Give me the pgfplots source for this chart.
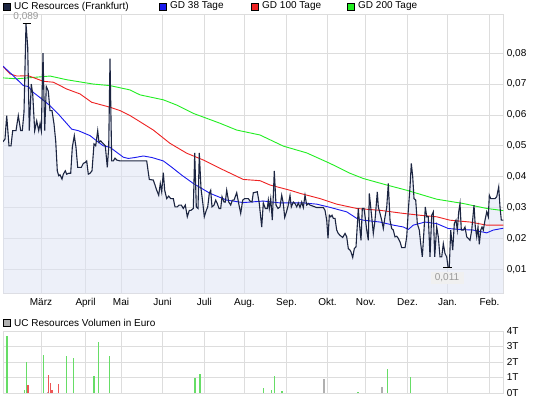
\documentclass[border=0pt]{standalone}
\usepackage{fontspec}
\setmainfont{Liberation Sans}
\usepackage{pgfplots}
\usepackage{pgfplotstable}
\pgfplotsset{compat=1.18}
\definecolor{gridc}{HTML}{DDDDDD}
\definecolor{pricec}{HTML}{1C2541}
\definecolor{fillc}{HTML}{DDE3F5}
\definecolor{maa}{HTML}{1A1AEE}
\definecolor{mab}{HTML}{EE2222}
\definecolor{mac}{HTML}{22EE22}
\definecolor{volg}{HTML}{66DD66}
\definecolor{volr}{HTML}{EE5555}
\definecolor{volgr}{HTML}{B0B0B0}
\definecolor{annot}{HTML}{999999}

\pgfplotstableread{
x v
3 0.0513
5 0.0522
6.7 0.0598
9 0.0500
11 0.0500
12.7 0.0549
16 0.0549
18.3 0.0598
20.7 0.0549
22.3 0.0549
24 0.0609
26 0.0895
27.7 0.0820
29.3 0.0549
31.3 0.0700
32.7 0.0668
34.7 0.0549
36.7 0.0581
38.7 0.0549
40 0.0571
41.3 0.0549
43 0.0800
44.7 0.0549
46.3 0.0692
48.3 0.0677
50 0.0614
52 0.0614
54 0.0571
55.7 0.0516
57.3 0.0419
58.7 0.0403
60 0.0406
62 0.0392
63.3 0.0408
65.3 0.0419
66.7 0.0408
68.7 0.0411
70.7 0.0411
72.3 0.0495
74.3 0.0533
76 0.0495
77.7 0.0430
81.3 0.0430
83.3 0.0443
85.3 0.0446
86.7 0.0451
88.3 0.0408
90 0.0411
92 0.0419
94 0.0506
95.7 0.0500
97.7 0.0549
99 0.0511
100.7 0.0516
102 0.0511
105.3 0.0500
107.3 0.0430
108.7 0.0495
110 0.0782
111.7 0.0451
113.3 0.0451
115 0.0460
116.7 0.0454
120 0.0451
146.7 0.0451
149.3 0.0391
153.3 0.0389
155 0.0373
156.7 0.0356
158.7 0.0340
160.3 0.0378
161.7 0.0351
163.3 0.0413
164.7 0.0356
166.7 0.0329
168.7 0.0337
170.7 0.0329
173.3 0.0329
175 0.0302
177.3 0.0302
179 0.0308
181.3 0.0308
183.3 0.0297
185.3 0.0308
187.3 0.0270
189.3 0.0291
191 0.0291
193.3 0.0297
194.7 0.0477
196.3 0.0302
198 0.0297
199.3 0.0477
201 0.0362
202.7 0.0318
204.3 0.0270
206.3 0.0291
207.7 0.0302
209.3 0.0346
210.7 0.0356
212 0.0302
214 0.0308
215.7 0.0324
217.3 0.0313
219 0.0297
220.7 0.0297
222 0.0335
224 0.0318
225.3 0.0318
226.7 0.0356
228.7 0.0318
230.7 0.0308
232.3 0.0324
234 0.0324
236.7 0.0348
238.7 0.0313
240.7 0.0281
242.7 0.0324
244.7 0.0329
248.3 0.0329
250 0.0321
252 0.0318
253.3 0.0348
257.3 0.0351
259.3 0.0313
261.7 0.0237
263.3 0.0315
265.3 0.0297
267.3 0.0297
268.3 0.0324
269.3 0.0297
270.7 0.0329
272.3 0.0259
274.3 0.0419
276 0.0308
278 0.0297
280 0.0302
281.7 0.0340
283.3 0.0313
284.7 0.0268
286 0.0281
288 0.0304
290 0.0339
291.3 0.0302
293.3 0.0318
295 0.0313
296.7 0.0302
298.3 0.0315
300 0.0300
301.7 0.0318
303.3 0.0300
305 0.0340
306.7 0.0308
308.3 0.0313
310 0.0308
316.7 0.0300
323.3 0.0300
325 0.0291
326.7 0.0259
328 0.0200
329.3 0.0275
330.7 0.0270
332 0.0275
333.3 0.0265
335 0.0265
336.7 0.0227
338.3 0.0216
340 0.0210
342.7 0.0203
345 0.0216
346.7 0.0205
348.3 0.0167
350 0.0162
351 0.0156
352.7 0.0138
354.3 0.0167
356 0.0173
358.3 0.0297
360 0.0227
361 0.0194
362.3 0.0297
364 0.0297
365.3 0.0265
366.7 0.0227
368.3 0.0194
369.3 0.0346
371.7 0.0270
373.3 0.0216
375 0.0259
377.3 0.0351
378.3 0.0302
380 0.0281
381.7 0.0259
383.3 0.0232
385 0.0270
386.7 0.0300
388.3 0.0378
390 0.0259
391.7 0.0232
393.3 0.0227
395 0.0205
396.7 0.0207
398.3 0.0200
400 0.0189
401.7 0.0170
405 0.0170
406.7 0.0205
408.3 0.0291
410 0.0367
411.3 0.0443
412.7 0.0400
414 0.0329
415.7 0.0324
417.3 0.0248
419.3 0.0227
420.7 0.0183
422.3 0.0140
424 0.0227
425.3 0.0302
426.7 0.0270
428.3 0.0270
430 0.0140
431.7 0.0275
433.3 0.0286
434.7 0.0140
436.7 0.0237
438.3 0.0205
440 0.0140
441.7 0.0140
443.3 0.0183
445 0.0151
446.7 0.0140
448 0.0107
449.3 0.0107
450.7 0.0227
452.7 0.0162
454.3 0.0248
456 0.0259
457.3 0.0227
458.7 0.0286
460 0.0313
461.3 0.0227
463.3 0.0227
465 0.0237
466.7 0.0205
468.3 0.0200
470 0.0194
471.7 0.0227
474 0.0308
475.3 0.0237
476.7 0.0205
478 0.0237
479.3 0.0181
480.7 0.0227
482 0.0237
483.3 0.0227
485 0.0259
486.7 0.0286
488.3 0.0270
489.3 0.0340
490.7 0.0329
495 0.0329
496.7 0.0335
498.7 0.0367
500 0.0302
501.3 0.0259
503.3 0.0259
}\price

\pgfplotstableread{
x v
3 0.0758
13.3 0.0727
23.3 0.0695
28.3 0.0692
33.3 0.0673
41.7 0.0652
50 0.0630
58.3 0.0603
71.7 0.0554
78.3 0.0549
90 0.0533
96.7 0.0516
103.3 0.0500
110 0.0495
116.7 0.0479
123.3 0.0463
128.3 0.0459
135 0.0462
143.3 0.0467
152 0.0462
163.3 0.0451
172 0.0430
181.7 0.0405
193.3 0.0378
210 0.0346
226.7 0.0324
243.3 0.0316
263.3 0.0321
280 0.0315
303.3 0.0315
316.7 0.0311
328.3 0.0302
346.7 0.0286
356.7 0.0265
363.3 0.0259
380 0.0253
393.3 0.0243
403.3 0.0237
408.3 0.0229
413.3 0.0243
425 0.0253
436.7 0.0248
448.3 0.0232
460 0.0229
473.3 0.0227
486.7 0.0218
493.3 0.0227
503.3 0.0233
}\gda

\pgfplotstableread{
x v
3 0.0757
10 0.0733
16.7 0.0726
28.3 0.0727
43.3 0.0709
53.3 0.0706
66.7 0.0684
80 0.0668
91.7 0.0641
110 0.0625
120 0.0614
130 0.0598
140 0.0578
153.3 0.0551
170 0.0508
186.7 0.0476
203.3 0.0454
220 0.0427
243.3 0.0391
260 0.0387
270 0.0373
290 0.0356
300 0.0346
320 0.0329
336.7 0.0311
356.7 0.0297
380 0.0291
403.3 0.0281
420 0.0275
436.7 0.0270
450 0.0259
470 0.0253
486.7 0.0243
503.3 0.0243
}\gdb

\pgfplotstableread{
x v
3 0.0720
16.7 0.0717
50 0.0726
66.7 0.0714
93.3 0.0700
110 0.0695
130 0.0681
140 0.0665
163.3 0.0649
176.7 0.0632
193.3 0.0605
206.7 0.0589
220 0.0573
236.7 0.0551
260 0.0535
283.3 0.0499
306.7 0.0477
330 0.0443
350 0.0411
363.3 0.0394
386.7 0.0373
406.7 0.0356
436.7 0.0327
463.3 0.0313
486.7 0.0297
503.3 0.0290
}\gdc

\pgfplotstableread{
x v
6.9 3.7
24.3 0.2
26.4 1.97
43.4 2.46
66.3 2.37
73.3 2.24
94.1 1.12
98.6 3.3
109.4 2.37
195.1 0.97
200 1.23
263.2 0.35
271.2 0.22
274.3 1.12
282 0.12
358 0.07
387.8 1.56
410.8 1.03
}\volgreen

\pgfplotstableread{
x v
28.1 0.5
48.3 1.18
50.3 0.63
52.1 0.2
58.3 0.58
}\volred

\pgfplotstableread{
x v
47.2 0.05
324 0.89
382 0.4
}\volgray

\begin{document}
\fontsize{10bp}{12bp}\selectfont
\begin{tikzpicture}[x=1bp,y=1bp]
\useasboundingbox (0,0) rectangle (545,398);
\fill[white] (0,0) rectangle (545,398);

% top legend
\draw[black, fill=pricec] (3,388) rectangle (10,395);
\node[anchor=west, inner sep=0] at (14,391.5) {UC Resources (Frankfurt)};
\draw[black, fill=maa] (159,388) rectangle (166,395);
\node[anchor=west, inner sep=0] at (170,391.5) {GD 38 Tage};
\draw[black, fill=mab] (251,388) rectangle (258,395);
\node[anchor=west, inner sep=0] at (262,391.5) {GD 100 Tage};
\draw[black, fill=mac] (347,388) rectangle (354,395);
\node[anchor=west, inner sep=0] at (358,391.5) {GD 200 Tage};

% volume legend
\draw[black, fill=volgr] (3,72) rectangle (10,79);
\node[anchor=west, inner sep=0] at (14,75.5) {UC Resources Volumen in Euro};

\pgfplotsset{chartstyle/.style={
  scale only axis,
  width=500.3bp,
  xmin=3, xmax=503.3,
  axis line style={draw=gridc},
  grid=major,
  major grid style={draw=gridc, line width=0.8bp},
  major tick length=0pt,
  xtick={41,85.5,121,162.5,204.3,244.4,286.5,327.5,365.7,407.5,447.5,489.5},
  yticklabel pos=right,
  scaled y ticks=false,
  ticklabel style={font=\fontsize{10bp}{12bp}\selectfont, text=black},
  clip mode=individual,
}}

\begin{axis}[chartstyle,
  at={(3bp,104.5bp)}, anchor=south west,
  height=279.5bp,
  ymin=0.00215, ymax=0.0927,
  xticklabels={März,April,Mai,Juni,Juli,Aug.,Sep.,Okt.,Nov.,Dez.,Jan.,Feb.},
  xticklabel style={yshift=-1.5bp},
  ytick={0.01,0.02,0.03,0.04,0.05,0.06,0.07,0.08},
  yticklabels={{0,01},{0,02},{0,03},{0,04},{0,05},{0,06},{0,07},{0,08}},
]
\addplot[draw=none, fill=fillc, fill opacity=0.5] table[x=x,y=v] {\price} \closedcycle;
\addplot[mac, line width=0.9bp] table[x=x,y=v] {\gdc};
\addplot[mab, line width=0.9bp] table[x=x,y=v] {\gdb};
\addplot[maa, line width=0.9bp] table[x=x,y=v] {\gda};
\addplot[pricec, line width=1.1bp] table[x=x,y=v] {\price};
\addplot[black, line width=1bp] coordinates {(22.7,0.0895) (31,0.0895)};
\addplot[black, line width=1bp] coordinates {(443,0.0107) (452,0.0107)};
\node[text=annot, inner sep=0] at (axis cs:26,0.0920) {0,089};
\node[text=annot, fill=black!6, inner sep=1.5bp, minimum width=33bp] at (axis cs:447,0.0072) {0,011};
\end{axis}

\begin{axis}[chartstyle,
  at={(3bp,5bp)}, anchor=south west,
  height=62bp,
  ymin=0, ymax=4,
  xticklabels={},
  ytick={0,1,2,3,4},
  yticklabels={0T,1T,2T,3T,4T},
]
\addplot[ycomb, volg, line width=1.3bp] table[x=x,y=v] {\volgreen};
\addplot[ycomb, volr, line width=1.3bp] table[x=x,y=v] {\volred};
\addplot[ycomb, volgr, line width=1.3bp] table[x=x,y=v] {\volgray};
\end{axis}
\end{tikzpicture}
\end{document}
